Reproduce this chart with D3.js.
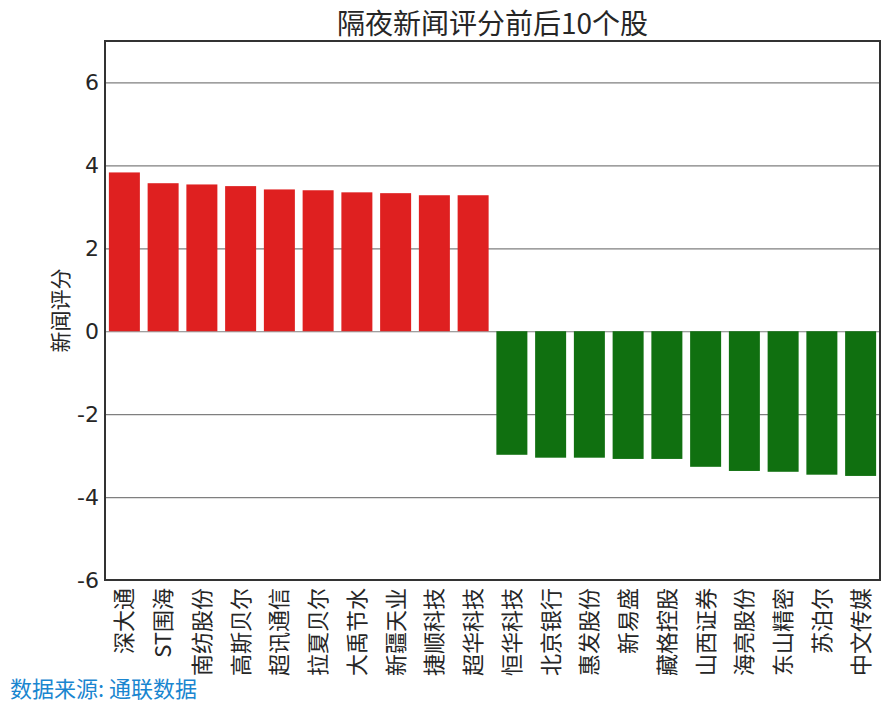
<!DOCTYPE html>
<html lang="zh">
<head>
    <meta charset="UTF-8" />
    <script src="https://d3js.org/d3.v7.min.js"></script>
    <title>隔夜新闻评分前后10个股</title>
    <style>
        body { margin: 0; background: #fff; }
        text { font-family: "Noto Sans CJK SC", "DejaVu Sans", sans-serif; }
    </style>
</head>
<body>
<script>
    var stocks = ["深大通", "ST围海", "南纺股份", "高斯贝尔", "超讯通信", "拉夏贝尔", "大禹节水", "新疆天业", "捷顺科技", "超华科技",
        "恒华科技", "北京银行", "惠发股份", "新易盛", "藏格控股", "山西证券", "海亮股份", "东山精密", "苏泊尔", "中文传媒"];
    var scores = [3.83, 3.57, 3.54, 3.50, 3.42, 3.40, 3.35, 3.33, 3.28, 3.28,
        -2.98, -3.05, -3.05, -3.08, -3.08, -3.27, -3.37, -3.39, -3.46, -3.49];
    var yTicks = [-6, -4, -2, 0, 2, 4, 6];

    var width = 890, height = 711;
    var margin = { left: 105, right: 10, top: 41, bottom: 131 };

    var svg = d3.select("body").append("svg")
        .attr("width", width)
        .attr("height", height);

    var x = d3.scaleBand().domain(stocks)
        .range([margin.left, width - margin.right])
        .paddingInner(0.2).paddingOuter(0.1);

    var y = d3.scaleLinear().domain([-6, 7])
        .range([height - margin.bottom, margin.top]);

    // grid lines
    svg.append("g")
        .attr("transform", "translate(" + margin.left + ",0)")
        .call(d3.axisLeft(y).tickValues(yTicks).tickSize(-(width - margin.left - margin.right)).tickFormat(""))
        .call(g => g.select(".domain").remove())
        .call(g => g.selectAll("line").attr("stroke", "#7f7f7f").attr("stroke-width", 1.2));

    // bars
    svg.append("g").selectAll("rect").data(stocks)
        .enter().append("rect")
        .attr("x", d => x(d))
        .attr("width", x.bandwidth())
        .attr("y", (d, i) => y(Math.max(0, scores[i])))
        .attr("height", (d, i) => Math.abs(y(scores[i]) - y(0)))
        .attr("fill", (d, i) => scores[i] >= 0 ? "#df2020" : "#107010");

    // y tick labels (plain hyphen for negatives)
    svg.append("g")
        .attr("transform", "translate(" + margin.left + ",0)")
        .call(d3.axisLeft(y).tickValues(yTicks).tickSize(0).tickPadding(6).tickFormat(d => String(d)))
        .call(g => g.select(".domain").remove())
        .call(g => g.selectAll("text").attr("font-size", 22).attr("fill", "#262626")
            .style("font-family", "'DejaVu Sans', sans-serif"));

    // x tick labels
    svg.append("g")
        .attr("transform", "translate(0," + (height - margin.bottom) + ")")
        .call(d3.axisBottom(x).tickSize(0).tickPadding(0))
        .call(g => g.select(".domain").remove())
        .call(g => g.selectAll("text")
            .attr("font-size", 22).attr("fill", "#262626")
            .attr("text-anchor", "end")
            .attr("dy", "0.36em")
            .attr("transform", "translate(0,8) rotate(-90)")
            .attr("y", 0).attr("x", 0));

    // frame
    svg.append("rect")
        .attr("x", margin.left).attr("y", margin.top)
        .attr("width", width - margin.left - margin.right)
        .attr("height", height - margin.top - margin.bottom)
        .attr("fill", "none").attr("stroke", "#333").attr("stroke-width", 2);

    // title
    svg.append("text")
        .attr("x", (margin.left + width - margin.right) / 2).attr("y", 34)
        .attr("text-anchor", "middle").attr("font-size", 28).attr("fill", "#262626")
        .text("隔夜新闻评分前后10个股");

    // y label
    svg.append("text")
        .attr("transform", "translate(68," + y(0.5) + ") rotate(-90)")
        .attr("text-anchor", "middle").attr("font-size", 21).attr("fill", "#262626")
        .text("新闻评分");

    // source
    svg.append("text")
        .attr("x", 10).attr("y", 697)
        .attr("font-size", 22).attr("fill", "#1a86d0")
        .text("数据来源: 通联数据");
</script>
</body>
</html>
